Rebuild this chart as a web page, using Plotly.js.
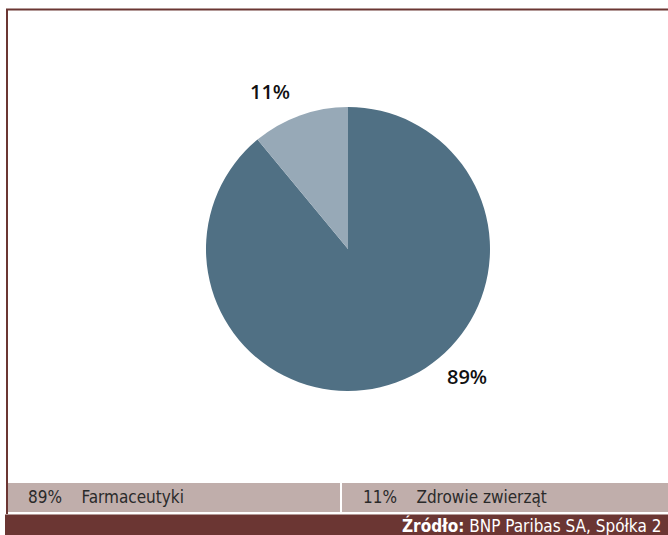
<!DOCTYPE html>
<html>
<head>
<meta charset="utf-8">
<script src="https://cdn.plot.ly/plotly-3.0.1.min.js"></script>
<style>html,body{margin:0;padding:0;background:#fff;}#chart{width:668px;height:535px;}</style>
</head>
<body>
<div id="chart"></div>
<script>
const categories = ["Farmaceutyki", "Zdrowie zwierząt"];
const shares = [89, 11];
const sliceColors = ["#507084", "#97a9b7"];
const sourceLabel = "Źródło:";
const sourceText = "BNP Paribas SA, Spółka 2";

const W = 668, H = 535;
const px = x => x / W;
const py = y => 1 - y / H;
const red = "#6b3633";
const narrow = "'Liberation Sans Narrow', 'DejaVu Sans Condensed', 'Roboto', sans-serif";

const trace = {
  type: "pie",
  labels: categories,
  values: shares,
  sort: false,
  direction: "clockwise",
  rotation: 0,
  marker: {colors: sliceColors, line: {width: 0}},
  textinfo: "none",
  hoverinfo: "label+percent",
  domain: {x: [px(206), px(490)], y: [py(391), py(107)]},
  showlegend: false
};

const labelPos = [[467, 376], [270, 91]];
const annotations = shares.map((v, i) => ({
  xref: "paper", yref: "paper", x: px(labelPos[i][0]), y: py(labelPos[i][1]),
  text: v + "%", showarrow: false, xanchor: "center", yanchor: "middle",
  font: {family: "'Open Sans', sans-serif", size: 20, color: "#111", weight: 600}
}));

const legendX = [26, 361];
shares.forEach((v, i) => {
  annotations.push({
    xref: "paper", yref: "paper", x: px(legendX[i]), y: py(497),
    text: v + "%\u00a0\u00a0\u00a0\u00a0" + categories[i], showarrow: false,
    xanchor: "left", yanchor: "middle",
    font: {family: narrow, size: 17, color: "#2a2a2a"}
  });
});
annotations.push({
  xref: "paper", yref: "paper", x: px(663), y: py(525),
  text: "<b>" + sourceLabel + "</b> " + sourceText, showarrow: false,
  xanchor: "right", yanchor: "middle",
  font: {family: narrow, size: 17, color: "#ffffff"}
});

const shapes = [
  {type: "rect", xref: "paper", yref: "paper", x0: px(8), x1: 1, y0: py(512), y1: py(483), fillcolor: "#c0aeab", line: {width: 0}, layer: "below"},
  {type: "line", xref: "paper", yref: "paper", x0: px(341), x1: px(341), y0: py(512), y1: py(483), line: {color: "#ffffff", width: 2}},
  {type: "rect", xref: "paper", yref: "paper", x0: px(5), x1: 1, y0: 0, y1: py(514.5), fillcolor: red, line: {width: 0}},
  {type: "line", xref: "paper", yref: "paper", x0: px(7), x1: px(7), y0: py(514), y1: py(9), line: {color: red, width: 2}},
  {type: "line", xref: "paper", yref: "paper", x0: px(6), x1: 1, y0: py(9.5), y1: py(9.5), line: {color: red, width: 2}}
];

const layout = {
  width: W, height: H,
  margin: {l: 0, r: 0, t: 0, b: 0},
  paper_bgcolor: "#ffffff",
  showlegend: false,
  annotations: annotations,
  shapes: shapes
};

Plotly.newPlot("chart", [trace], layout, {displayModeBar: false, staticPlot: true});
</script>
</body>
</html>
